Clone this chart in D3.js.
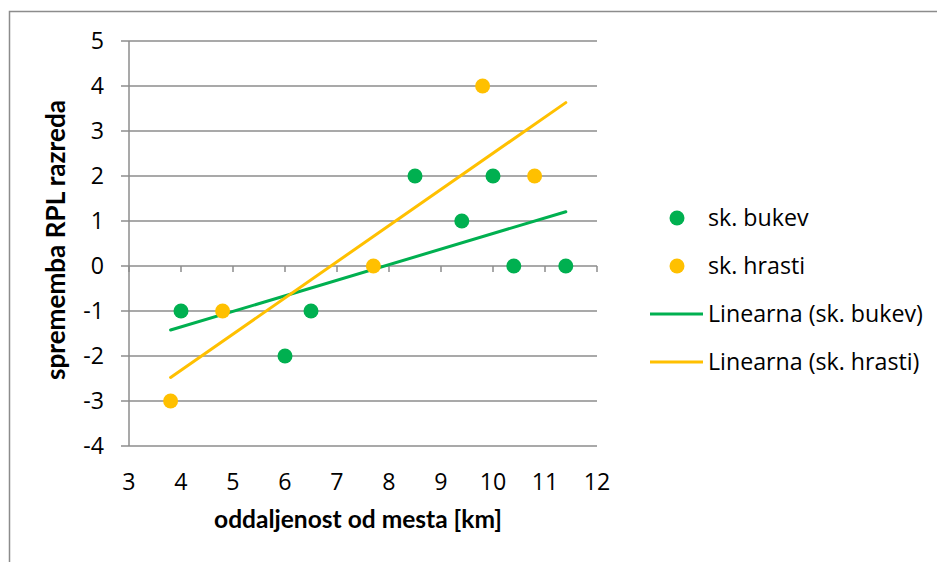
<!DOCTYPE html>
<html><head><meta charset="utf-8">
<script src="https://cdn.jsdelivr.net/npm/d3@7/dist/d3.min.js"></script>
<style>body{margin:0;background:#fff}svg{display:block}text{font-family:"Open Sans","Noto Sans",Arial,sans-serif;fill:#000}text.title{font-family:Lato,"Open Sans",Arial,sans-serif}</style>
</head><body>
<script>
const bukevX = [4, 6, 6.5, 8.5, 9.4, 10, 10.4, 11.4];
const bukevY = [-1, -2, -1, 2, 1, 2, 0, 0];
const hrastiX = [3.8, 4.8, 7.7, 9.8, 10.8];
const hrastiY = [-3, -1, 0, 4, 2];
const xTicks = [3,4,5,6,7,8,9,10,11,12];
const yTicks = [5,4,3,2,1,0,-1,-2,-3,-4];
const seriesNames = ["sk. bukev", "sk. hrasti"];
const trendNames = ["Linearna (sk. bukev)", "Linearna (sk. hrasti)"];
const colors = ["#00B050", "#FFC000"];

const W = 937, H = 562;
const svg = d3.select("body").append("svg").attr("width", W).attr("height", H);
svg.append("rect").attr("x", 9.5).attr("y", 11.5).attr("width", 1000).attr("height", 1000)
  .attr("fill", "none").attr("stroke", "#8c8c8c").attr("stroke-width", 1.5);

const x = d3.scaleLinear().domain([3, 12]).range([129, 597]);
const y = d3.scaleLinear().domain([-4, 5]).range([446, 41]);
const grid = "#8c8c8c";

svg.append("g").selectAll("line").data(yTicks).join("line")
  .attr("x1", 121).attr("x2", x(12)).attr("y1", d => y(d)).attr("y2", d => y(d))
  .attr("stroke", grid).attr("stroke-width", 1.5);
svg.append("line").attr("x1", x(3)).attr("x2", x(3)).attr("y1", y(5)).attr("y2", y(-4))
  .attr("stroke", grid).attr("stroke-width", 1.5);
svg.append("g").selectAll("line").data(xTicks).join("line")
  .attr("x1", d => x(d)).attr("x2", d => x(d)).attr("y1", y(0)).attr("y2", y(0) + 6)
  .attr("stroke", grid).attr("stroke-width", 1.5);

const probe = svg.append("text").attr("font-size", 20).text(trendNames[0]);
const fs = +(20 * 215 / probe.node().getComputedTextLength()).toFixed(2);
probe.remove();

function fitText(sel, target) {
  const w = sel.node().getComputedTextLength();
  const f = +sel.attr("font-size");
  sel.attr("font-size", (f * target / w).toFixed(2));
}

svg.append("g").selectAll("text").data(yTicks).join("text")
  .attr("x", 104).attr("y", d => y(d)).attr("dy", "0.36em").attr("text-anchor", "end")
  .attr("font-size", fs).text(d => d);
svg.append("g").selectAll("text").data(xTicks).join("text")
  .attr("x", d => x(d)).attr("y", 490).attr("text-anchor", "middle")
  .attr("font-size", fs).text(d => d);

const xt = svg.append("text").attr("class", "title").attr("x", 358).attr("y", 528).attr("text-anchor", "middle")
  .attr("font-size", 20).attr("font-weight", "bold").text("oddaljenost od mesta [km]");
fitText(xt, 288);
const yt = svg.append("text").attr("class", "title").attr("transform", "translate(65,240) rotate(-90)").attr("text-anchor", "middle")
  .attr("font-size", 20).attr("font-weight", "bold").text("sprememba RPL razreda");
fitText(yt, 280);

function fit(xs, ys) {
  const mx = d3.mean(xs), my = d3.mean(ys);
  let sxy = 0, sxx = 0;
  xs.forEach((v, i) => { sxy += (v - mx) * (ys[i] - my); sxx += (v - mx) * (v - mx); });
  const b = sxy / sxx; return { b, a: my - b * mx };
}
const allX = bukevX.concat(hrastiX);
const [x0, x1] = d3.extent(allX);
[[bukevX, bukevY], [hrastiX, hrastiY]].forEach(([xs, ys], i) => {
  const f = fit(xs, ys);
  svg.append("line").attr("x1", x(x0)).attr("y1", y(f.a + f.b * x0))
    .attr("x2", x(x1)).attr("y2", y(f.a + f.b * x1))
    .attr("stroke", colors[i]).attr("stroke-width", 3).attr("stroke-linecap", "round");
});
[[bukevX, bukevY], [hrastiX, hrastiY]].forEach(([xs, ys], i) => {
  svg.append("g").selectAll("circle").data(xs).join("circle")
    .attr("cx", d => x(d)).attr("cy", (d, j) => y(ys[j])).attr("r", 7.5).attr("fill", colors[i]);
});

const ly = [218, 266, 314, 362];
seriesNames.forEach((n, i) => {
  svg.append("circle").attr("cx", 677).attr("cy", ly[i]).attr("r", 7.5).attr("fill", colors[i]);
  svg.append("text").attr("x", 708).attr("y", ly[i]).attr("dy", "0.36em").attr("font-size", fs).text(n);
});
trendNames.forEach((n, i) => {
  svg.append("line").attr("x1", 650).attr("x2", 703).attr("y1", ly[i + 2]).attr("y2", ly[i + 2])
    .attr("stroke", colors[i]).attr("stroke-width", 3);
  svg.append("text").attr("x", 708).attr("y", ly[i + 2]).attr("dy", "0.36em").attr("font-size", fs).text(n);
});
</script>
</body></html>
